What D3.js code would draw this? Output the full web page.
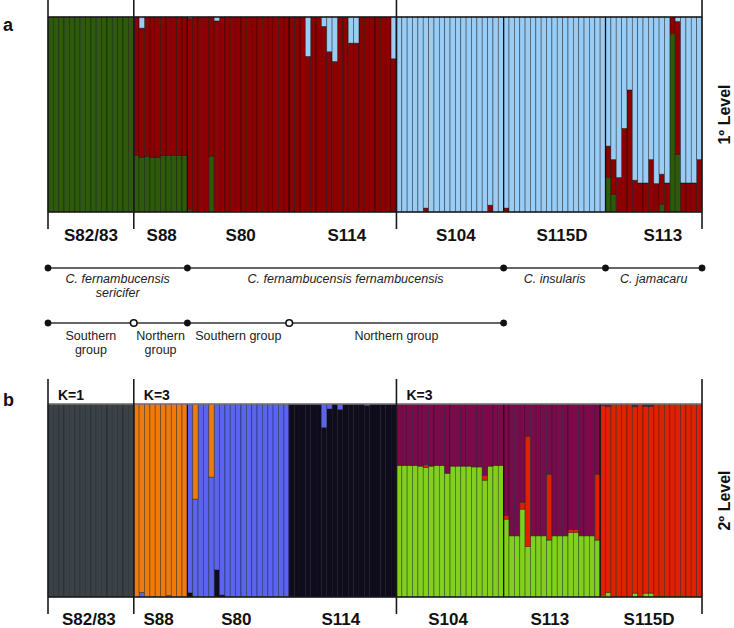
<!DOCTYPE html>
<html>
<head>
<meta charset="utf-8">
<script src="https://cdn.jsdelivr.net/npm/d3@7"></script>
<style>
  html, body { margin: 0; padding: 0; background: #fff; }
  svg { display: block; font-family: "Liberation Sans", Arial, sans-serif; }
</style>
</head>
<body>
<svg id="chart" width="734" height="628"></svg>
<script>
// ---------------- DATA ----------------
// Panel a (1º level, K=3): populations in plotted order and number of individuals
const popsA = ["S82/83", "S88", "S80", "S114", "S104", "S115D", "S113"];
const sizesA = [16, 10, 19, 20, 20, 19, 18];

// Membership coefficients per individual (stack order bottom -> top: green, red, blue)
const aGreen = [
  1,1,1,1,1,1,1,1,1,1,1,1,1,1,1,1,
  0.29,0.28,0.285,0.28,0.28,0.29,0.29,0.29,0.29,0.29,
  0.012,0,0,0,0.286,0,0,0,0,0,0,0,0,0,0,0,0,0,0,
  0,0,0,0,0,0,0,0,0,0,0,0,0,0,0,0,0,0,0,0,
  0,0,0,0,0,0,0,0,0,0,0,0,0,0,0,0,0,0,0,0,
  0,0,0,0,0,0,0,0,0,0,0,0,0,0,0,0,0,0,0,
  0.177,0.091,0,0,0,0,0,0,0,0,0.038,0,0.914,0.297,0,0,0,0
];
const aRed = [
  0,0,0,0,0,0,0,0,0,0,0,0,0,0,0,0,
  0.71,0.663,0.715,0.72,0.72,0.71,0.71,0.71,0.71,0.71,
  0.982,1,1,1,0.714,0.98,1,1,1,1,1,1,1,1,1,1,1,1,1,
  1,1,1,0.798,1,1,0.952,0.822,0.772,1,1,0.866,0.866,1,1,1,1,1,1,0.786,
  0,0,0,0,0,0.02,0,0,0,0,0,0,0,0,0,0,0,0.035,0,0,
  0.02,0,0,0,0,0,0,0,0,0,0,0,0,0,0,0,0,0,0,
  0.161,0.178,0.177,0.429,0.626,0.163,0.149,0.149,0.269,0.146,0.156,0.149,0.086,0.68,0.149,0.149,0.149,0.269
];
const aBlue = [
  0,0,0,0,0,0,0,0,0,0,0,0,0,0,0,0,
  0,0.057,0,0,0,0,0,0,0,0,
  0.006,0,0,0,0,0.02,0,0,0,0,0,0,0,0,0,0,0,0,0,
  0,0,0,0.202,0,0,0.048,0.178,0.228,0,0,0.134,0.134,0,0,0,0,0,0,0.214,
  1,1,1,1,1,0.98,1,1,1,1,1,1,1,1,1,1,1,0.965,1,1,
  0.98,1,1,1,1,1,1,1,1,1,1,1,1,1,1,1,1,1,1,
  0.662,0.731,0.823,0.571,0.374,0.837,0.851,0.851,0.731,0.854,0.806,0.851,0,0.023,0.851,0.851,0.851,0.731
];

// Panel b (2º level): populations in plotted order
const popsB = ["S82/83", "S88", "S80", "S114", "S104", "S113", "S115D"];
const sizesB = [16, 10, 19, 20, 20, 18, 19];
const kLabels = ["K=1", "K=3", "K=3"];

// stack order bottom -> top: gray, navy, blue, orange, lime, red, purple
const bGray = [
  1,1,1,1,1,1,1,1,1,1,1,1,1,1,1,1,
  0,0,0,0,0,0,0,0,0,0,
  0,0,0,0,0,0,0,0,0,0,0,0,0,0,0,0,0,0,0,
  0,0,0,0,0,0,0,0,0,0,0,0,0,0,0,0,0,0,0,0,
  0,0,0,0,0,0,0,0,0,0,0,0,0,0,0,0,0,0,0,0,
  0,0,0,0,0,0,0,0,0,0,0,0,0,0,0,0,0,0,
  0,0,0,0,0,0,0,0,0,0,0,0,0,0,0,0,0,0,0
];
const bOrange = [
  0,0,0,0,0,0,0,0,0,0,0,0,0,0,0,0,
  1,0.976,1,1,1,1,0.992,1,1,1,
  0,0.493,0,0,0.379,0,0,0,0,0,0,0,0,0,0,0,0,0,0,
  0,0,0,0,0,0,0,0,0,0,0,0,0,0,0,0,0,0,0,0,
  0,0,0,0,0,0,0,0,0,0,0,0,0,0,0,0,0,0,0,0,
  0,0,0,0,0,0,0,0,0,0,0,0,0,0,0,0,0,0,
  0,0,0,0,0,0,0,0,0,0,0,0,0,0,0,0,0,0,0
];
const bBlue = [
  0,0,0,0,0,0,0,0,0,0,0,0,0,0,0,0,
  0,0.024,0,0,0,0,0.008,0,0,0,
  0.978,0.507,1,1,0.621,0.859,0.99,1,1,1,1,1,1,1,1,1,1,1,1,
  0,0,0,0,0,0,0.122,0.026,0,0.029,0,0,0,0,0.008,0,0,0,0,0,
  0,0,0,0,0,0,0,0,0,0,0,0,0,0,0,0,0,0,0,0,
  0,0,0,0,0,0,0,0,0,0,0,0,0,0,0,0,0,0,
  0,0,0,0,0,0,0,0,0,0,0,0,0,0,0,0,0,0,0
];
const bNavy = [
  0,0,0,0,0,0,0,0,0,0,0,0,0,0,0,0,
  0,0,0,0,0,0,0,0,0,0,
  0.022,0,0,0,0,0.141,0.01,0,0,0,0,0,0,0,0,0,0,0,0,
  1,1,1,1,1,1,0.878,0.974,1,0.971,1,1,1,1,0.992,1,1,1,1,1,
  0,0,0,0,0,0,0,0,0,0,0,0,0,0,0,0,0,0,0,0,
  0,0,0,0,0,0,0,0,0,0,0,0,0,0,0,0,0,0,
  0,0,0,0,0,0,0,0,0,0,0,0,0,0,0,0,0,0,0
];
const bLime = [
  0,0,0,0,0,0,0,0,0,0,0,0,0,0,0,0,
  0,0,0,0,0,0,0,0,0,0,
  0,0,0,0,0,0,0,0,0,0,0,0,0,0,0,0,0,0,0,
  0,0,0,0,0,0,0,0,0,0,0,0,0,0,0,0,0,0,0,0,
  0.681,0.681,0.681,0.681,0.678,0.672,0.678,0.681,0.681,0.641,0.678,0.678,0.678,0.678,0.674,0.674,0.605,0.678,0.681,0.681,
  0.403,0.317,0.317,0.455,0.262,0.317,0.317,0.317,0.295,0.317,0.317,0.317,0.334,0.334,0.317,0.317,0.317,0.295,
  0.01,0.024,0,0,0,0,0.02,0,0.02,0.02,0,0,0,0,0,0,0,0,0
];
const bRed = [
  0,0,0,0,0,0,0,0,0,0,0,0,0,0,0,0,
  0,0,0,0,0,0,0,0,0,0,
  0,0,0,0,0,0,0,0,0,0,0,0,0,0,0,0,0,0,0,
  0,0,0,0,0,0,0,0,0,0,0,0,0,0,0,0,0,0,0,0,
  0,0,0,0,0,0.014,0,0,0,0,0,0,0,0,0,0,0.026,0,0,0,
  0.019,0,0,0.036,0.571,0,0,0,0.341,0,0,0,0.016,0.016,0,0,0,0.341,
  0.982,0.962,1,1,1,1,0.966,1,0.968,0.968,1,1,1,1,1,1,1,1,1
];
const bPurple = [
  0,0,0,0,0,0,0,0,0,0,0,0,0,0,0,0,
  0,0,0,0,0,0,0,0,0,0,
  0,0,0,0,0,0,0,0,0,0,0,0,0,0,0,0,0,0,0,
  0,0,0,0,0,0,0,0,0,0,0,0,0,0,0,0,0,0,0,0,
  0.319,0.319,0.319,0.319,0.322,0.314,0.322,0.319,0.319,0.359,0.322,0.322,0.322,0.322,0.326,0.326,0.369,0.322,0.319,0.319,
  0.578,0.683,0.683,0.509,0.167,0.683,0.683,0.683,0.364,0.683,0.683,0.683,0.65,0.65,0.683,0.683,0.683,0.364,
  0.008,0.014,0,0,0,0,0.014,0,0.012,0.012,0,0,0,0,0,0,0,0,0
];

// Taxonomic annotation (segments given as population index boundaries in panel a)
const taxa = [
  { lines: ["C. fernambucensis", "sericifer"], from: 0, to: 2 },
  { lines: ["C. fernambucensis fernambucensis"], from: 2, to: 5 },
  { lines: ["C. insularis"], from: 5, to: 6 },
  { lines: ["C. jamacaru"], from: 6, to: 7 }
];
const groups = [
  { lines: ["Southern", "group"], from: 0, to: 1 },
  { lines: ["Northern", "group"], from: 1, to: 2 },
  { lines: ["Southern group"], from: 2, to: 3 },
  { lines: ["Northern group"], from: 3, to: 5 }
];
const openNodes = [1, 3];

// ---------------- DRAW ----------------
const svg = d3.select("#chart");
const FONT = '"Liberation Sans", Arial, sans-serif';
const N = d3.sum(sizesA);
const x = d3.scaleBand().domain(d3.range(N)).range([48, 702]).paddingInner(0).paddingOuter(0);
const bw = x.bandwidth();
const bounds = sizes => { const c = [0]; sizes.forEach(s => c.push(c[c.length - 1] + s)); return c; };
const edgeX = i => (i >= N ? x.range()[1] : x(i));

function panel(cfg) {
  const { top, bottom, keys, colors, series, sizes, pops } = cfg;
  const y = d3.scaleLinear().domain([0, 1]).range([bottom, top]);
  const rows = d3.range(N).map(i => {
    const r = { i };
    keys.forEach((k, j) => r[k] = series[j][i]);
    return r;
  });
  const stacked = d3.stack().keys(keys)(rows);
  const g = svg.append("g");
  g.selectAll("g.layer").data(stacked).join("g")
    .attr("fill", d => colors[d.key])
    .selectAll("rect").data(d => d.filter(p => p[1] - p[0] > 0)).join("rect")
    .attr("x", d => x(d.data.i))
    .attr("width", bw)
    .attr("y", d => y(Math.min(1, d[1])))
    .attr("height", d => Math.max(0, y(d[0]) - y(Math.min(1, d[1]))))
    .attr("stroke", cfg.stroke)
    .attr("stroke-opacity", 0.55)
    .attr("stroke-width", 0.7);
  // population separators
  const b = bounds(sizes);
  b.slice(1, -1).forEach(i => {
    g.append("line").attr("x1", edgeX(i)).attr("x2", edgeX(i)).attr("y1", top).attr("y2", bottom)
      .attr("stroke", "#111").attr("stroke-width", 1.3);
  });
  // top/bottom borders
  g.append("line").attr("x1", x.range()[0]).attr("x2", x.range()[1]).attr("y1", top).attr("y2", top)
    .attr("stroke", cfg.topBorder).attr("stroke-width", 1.5);
  g.append("line").attr("x1", x.range()[0]).attr("x2", x.range()[1]).attr("y1", bottom).attr("y2", bottom)
    .attr("stroke", "#1a1a1a").attr("stroke-width", 1.6);
  // bracket ticks
  cfg.brackets.forEach(i => {
    g.append("line").attr("x1", edgeX(i)).attr("x2", edgeX(i))
      .attr("y1", cfg.bracketTop).attr("y2", cfg.bracketBottom)
      .attr("stroke", "#1a1a1a").attr("stroke-width", 1.6);
  });
  // population labels
  pops.forEach((p, k) => {
    const mid = (edgeX(b[k]) + edgeX(b[k + 1])) / 2;
    g.append("text").attr("x", cfg.labelX(mid)).attr("y", cfg.labelY)
      .attr("text-anchor", "middle").attr("font-family", FONT)
      .attr("font-weight", "bold").attr("font-size", 17).attr("fill", "#111").text(p);
  });
  // level label
  g.append("text").attr("transform", `translate(730,${(top + bottom) / 2}) rotate(-90)`)
    .attr("text-anchor", "middle").attr("font-family", FONT)
    .attr("font-weight", "bold").attr("font-size", 16).attr("fill", "#111").text(cfg.level);
  // panel letter
  g.append("text").attr("x", 3).attr("y", cfg.letterY).attr("font-family", FONT)
    .attr("font-weight", "bold").attr("font-size", 18).attr("fill", "#111").text(cfg.letter);
  return b;
}

const bA = panel({
  top: 17, bottom: 212,
  keys: ["green", "red", "blue"],
  colors: { green: "#2d5b0b", red: "#8c0000", blue: "#99cdf6" },
  series: [aGreen, aRed, aBlue],
  stroke: "#000", topBorder: "#1a1a1a",
  sizes: sizesA, pops: popsA,
  brackets: [0, 16, 65, 122], bracketTop: 0, bracketBottom: 229,
  labelX: m => m + (m - 90) * 0.016, labelY: 241,
  level: "1º Level", letter: "a", letterY: 31
});

const bB = panel({
  top: 404, bottom: 597,
  keys: ["gray", "navy", "blue", "orange", "lime", "red", "purple"],
  colors: { gray: "#3a4147", navy: "#0f0d1d", blue: "#5a64ee", orange: "#f07b0c",
            lime: "#80d01c", red: "#de2200", purple: "#7a0a4b" },
  series: [bGray, bNavy, bBlue, bOrange, bLime, bRed, bPurple],
  stroke: "#111", topBorder: "#777",
  sizes: sizesB, pops: popsB,
  brackets: [0, 16, 65, 122], bracketTop: 379, bracketBottom: 614,
  labelX: m => m - 2, labelY: 625,
  level: "2º Level", letter: "b", letterY: 406
});

// K labels
[0, 16, 65].forEach((i, k) => {
  svg.append("text").attr("x", edgeX(i) + 10).attr("y", 400).attr("font-family", FONT)
    .attr("font-weight", "bold").attr("font-size", 14).attr("fill", "#111").text(kLabels[k]);
});

// Annotation lines
function annot(items, yLine, baselines, italic, open) {
  const g = svg.append("g");
  const nodes = new Set();
  items.forEach(it => { nodes.add(it.from); nodes.add(it.to); });
  const xs = [...nodes].map(n => edgeX(bA[n]));
  g.append("line").attr("x1", d3.min(xs)).attr("x2", d3.max(xs)).attr("y1", yLine).attr("y2", yLine)
    .attr("stroke", "#333").attr("stroke-width", 1.6);
  [...nodes].forEach(n => {
    const isOpen = open.includes(n);
    g.append("circle").attr("cx", edgeX(bA[n])).attr("cy", yLine).attr("r", isOpen ? 3.3 : 3.2)
      .attr("fill", isOpen ? "#fff" : "#111").attr("stroke", "#111").attr("stroke-width", isOpen ? 1.6 : 0.5);
  });
  items.forEach(it => {
    const mid = (edgeX(bA[it.from]) + edgeX(bA[it.to])) / 2;
    it.lines.forEach((t, j) => {
      g.append("text").attr("x", mid).attr("y", baselines[j]).attr("text-anchor", "middle")
        .attr("font-family", FONT).attr("font-size", 12.5)
        .attr("font-style", italic ? "italic" : "normal").attr("fill", "#222").text(t);
    });
  });
}
annot(taxa, 268, [283, 297], true, []);
annot(groups, 323, [340, 354], false, openNodes.map(i => i));
</script>
</body>
</html>
